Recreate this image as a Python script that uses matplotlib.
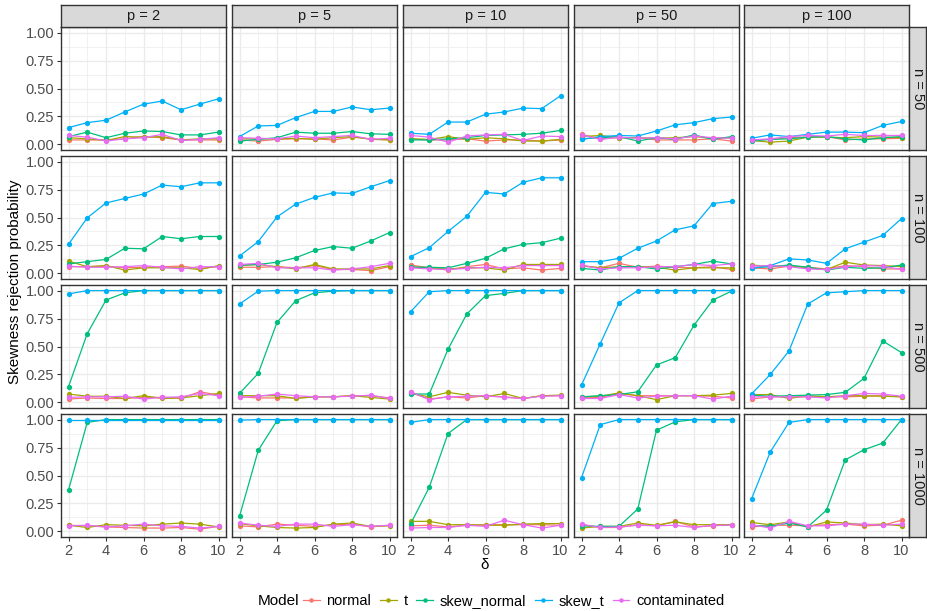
import numpy as np
import matplotlib.pyplot as plt
from matplotlib.lines import Line2D

plt.rcParams['font.family'] = ['Liberation Sans', 'DejaVu Sans']

delta = [2, 3, 4, 5, 6, 7, 8, 9, 10]
p_levels = [2, 5, 10, 50, 100]
n_levels = [50, 100, 500, 1000]
models = ['normal', 't', 'skew_normal', 'skew_t', 'contaminated']
colors = ['#F8766D', '#A3A500', '#00BF7D', '#00B0F6', '#E76BF3']

# rows: n = 50, 100, 500, 1000 ; inside each row: p = 2, 5, 10, 50, 100
normal = [
    [[0.04, 0.04, 0.04, 0.05, 0.07, 0.06, 0.04, 0.04, 0.04],
     [0.04, 0.03, 0.045, 0.05, 0.05, 0.04, 0.065, 0.05, 0.04],
     [0.05, 0.04, 0.04, 0.05, 0.03, 0.04, 0.04, 0.03, 0.04],
     [0.09, 0.05, 0.06, 0.06, 0.04, 0.04, 0.04, 0.05, 0.03],
     [0.04, 0.045, 0.06, 0.065, 0.07, 0.04, 0.05, 0.05, 0.055]],
    [[0.06, 0.06, 0.065, 0.05, 0.055, 0.06, 0.065, 0.045, 0.06],
     [0.055, 0.055, 0.06, 0.05, 0.07, 0.035, 0.035, 0.025, 0.06],
     [0.075, 0.05, 0.03, 0.06, 0.08, 0.04, 0.05, 0.03, 0.045],
     [0.065, 0.05, 0.09, 0.055, 0.065, 0.055, 0.05, 0.06, 0.035],
     [0.05, 0.04, 0.065, 0.055, 0.04, 0.07, 0.06, 0.04, 0.04]],
    [[0.03, 0.04, 0.035, 0.035, 0.045, 0.045, 0.035, 0.095, 0.065],
     [0.05, 0.04, 0.04, 0.04, 0.05, 0.05, 0.06, 0.06, 0.04],
     [0.09, 0.03, 0.05, 0.04, 0.06, 0.05, 0.035, 0.06, 0.06],
     [0.04, 0.045, 0.08, 0.06, 0.06, 0.06, 0.06, 0.055, 0.04],
     [0.03, 0.05, 0.05, 0.05, 0.05, 0.05, 0.055, 0.06, 0.05]],
    [[0.055, 0.05, 0.04, 0.035, 0.03, 0.03, 0.035, 0.02, 0.045],
     [0.05, 0.04, 0.065, 0.055, 0.045, 0.06, 0.065, 0.04, 0.055],
     [0.05, 0.055, 0.04, 0.055, 0.06, 0.06, 0.06, 0.06, 0.055],
     [0.06, 0.035, 0.035, 0.06, 0.05, 0.09, 0.04, 0.05, 0.06],
     [0.04, 0.055, 0.055, 0.05, 0.06, 0.065, 0.05, 0.055, 0.1]],
]
t_dist = [
    [[0.06, 0.05, 0.035, 0.07, 0.065, 0.07, 0.04, 0.05, 0.05],
     [0.05, 0.05, 0.05, 0.055, 0.045, 0.06, 0.07, 0.045, 0.04],
     [0.05, 0.045, 0.07, 0.045, 0.06, 0.05, 0.03, 0.03, 0.045],
     [0.07, 0.08, 0.06, 0.06, 0.055, 0.06, 0.07, 0.055, 0.06],
     [0.035, 0.02, 0.03, 0.065, 0.065, 0.06, 0.07, 0.065, 0.06]],
    [[0.11, 0.06, 0.07, 0.03, 0.05, 0.05, 0.05, 0.035, 0.07],
     [0.07, 0.08, 0.06, 0.04, 0.08, 0.04, 0.04, 0.04, 0.07],
     [0.06, 0.05, 0.04, 0.05, 0.05, 0.03, 0.08, 0.08, 0.08],
     [0.07, 0.05, 0.06, 0.06, 0.055, 0.03, 0.05, 0.05, 0.05],
     [0.075, 0.06, 0.07, 0.05, 0.035, 0.1, 0.075, 0.07, 0.06]],
    [[0.075, 0.055, 0.055, 0.035, 0.06, 0.035, 0.04, 0.06, 0.08],
     [0.06, 0.06, 0.06, 0.035, 0.05, 0.05, 0.06, 0.045, 0.03],
     [0.08, 0.05, 0.09, 0.065, 0.05, 0.08, 0.035, 0.06, 0.065],
     [0.05, 0.055, 0.085, 0.06, 0.025, 0.06, 0.06, 0.065, 0.08],
     [0.07, 0.07, 0.035, 0.06, 0.05, 0.06, 0.06, 0.055, 0.05]],
    [[0.055, 0.035, 0.06, 0.055, 0.05, 0.065, 0.075, 0.065, 0.04],
     [0.07, 0.05, 0.035, 0.03, 0.035, 0.065, 0.075, 0.045, 0.05],
     [0.09, 0.09, 0.06, 0.06, 0.055, 0.055, 0.065, 0.07, 0.07],
     [0.03, 0.045, 0.045, 0.075, 0.055, 0.085, 0.06, 0.06, 0.06],
     [0.08, 0.06, 0.085, 0.04, 0.085, 0.075, 0.06, 0.065, 0.05]],
]
skew_normal = [
    [[0.07, 0.11, 0.06, 0.1, 0.12, 0.115, 0.085, 0.085, 0.11],
     [0.03, 0.045, 0.06, 0.11, 0.1, 0.1, 0.115, 0.095, 0.09],
     [0.04, 0.04, 0.05, 0.06, 0.08, 0.085, 0.09, 0.1, 0.125],
     [0.05, 0.06, 0.07, 0.03, 0.06, 0.045, 0.085, 0.045, 0.07],
     [0.03, 0.045, 0.05, 0.065, 0.07, 0.05, 0.04, 0.06, 0.07]],
    [[0.085, 0.105, 0.125, 0.225, 0.22, 0.33, 0.31, 0.33, 0.33],
     [0.075, 0.08, 0.1, 0.14, 0.205, 0.24, 0.225, 0.29, 0.365],
     [0.055, 0.055, 0.05, 0.09, 0.135, 0.22, 0.26, 0.275, 0.315],
     [0.045, 0.03, 0.06, 0.06, 0.04, 0.06, 0.08, 0.11, 0.085],
     [0.05, 0.06, 0.075, 0.055, 0.03, 0.055, 0.045, 0.05, 0.075]],
    [[0.14, 0.615, 0.915, 0.98, 1.0, 1.0, 1.0, 1.0, 1.0],
     [0.08, 0.26, 0.715, 0.91, 0.98, 0.995, 1.0, 1.0, 1.0],
     [0.075, 0.075, 0.475, 0.79, 0.955, 0.975, 1.0, 1.0, 1.0],
     [0.05, 0.06, 0.07, 0.095, 0.335, 0.4, 0.69, 0.915, 0.995],
     [0.065, 0.055, 0.06, 0.065, 0.07, 0.09, 0.215, 0.55, 0.445]],
    [[0.37, 0.975, 1.0, 1.0, 1.0, 1.0, 1.0, 1.0, 1.0],
     [0.135, 0.725, 0.99, 1.0, 1.0, 1.0, 1.0, 1.0, 1.0],
     [0.065, 0.395, 0.875, 1.0, 1.0, 1.0, 1.0, 1.0, 1.0],
     [0.05, 0.045, 0.045, 0.2, 0.905, 0.98, 1.0, 1.0, 1.0],
     [0.055, 0.045, 0.075, 0.04, 0.19, 0.64, 0.73, 0.79, 1.0]],
]
skew_t = [
    [[0.15, 0.195, 0.216, 0.29, 0.36, 0.388, 0.31, 0.36, 0.408],
     [0.07, 0.165, 0.17, 0.24, 0.295, 0.295, 0.335, 0.31, 0.325],
     [0.1, 0.09, 0.2, 0.2, 0.27, 0.29, 0.325, 0.32, 0.435],
     [0.045, 0.07, 0.08, 0.075, 0.12, 0.175, 0.195, 0.23, 0.245],
     [0.055, 0.085, 0.07, 0.09, 0.11, 0.11, 0.105, 0.17, 0.205]],
    [[0.26, 0.497, 0.63, 0.67, 0.71, 0.79, 0.775, 0.81, 0.81],
     [0.155, 0.285, 0.505, 0.62, 0.68, 0.72, 0.715, 0.775, 0.83],
     [0.15, 0.23, 0.375, 0.51, 0.725, 0.71, 0.815, 0.855, 0.855],
     [0.105, 0.105, 0.135, 0.225, 0.29, 0.39, 0.425, 0.625, 0.645],
     [0.045, 0.07, 0.13, 0.12, 0.09, 0.22, 0.28, 0.34, 0.49]],
    [[0.97, 1.0, 1.0, 1.0, 1.0, 1.0, 1.0, 1.0, 1.0],
     [0.88, 0.995, 1.0, 1.0, 1.0, 1.0, 1.0, 1.0, 1.0],
     [0.81, 0.99, 1.0, 1.0, 1.0, 1.0, 1.0, 1.0, 1.0],
     [0.155, 0.525, 0.89, 1.0, 1.0, 1.0, 1.0, 1.0, 1.0],
     [0.075, 0.25, 0.46, 0.88, 0.98, 0.99, 1.0, 1.0, 1.0]],
    [[1.0, 1.0, 1.0, 1.0, 1.0, 1.0, 1.0, 1.0, 1.0],
     [0.995, 1.0, 1.0, 1.0, 1.0, 1.0, 1.0, 1.0, 1.0],
     [0.975, 1.0, 1.0, 1.0, 1.0, 1.0, 1.0, 1.0, 1.0],
     [0.48, 0.955, 1.0, 1.0, 1.0, 1.0, 1.0, 1.0, 1.0],
     [0.29, 0.71, 0.975, 1.0, 1.0, 1.0, 1.0, 1.0, 1.0]],
]
contaminated = [
    [[0.08, 0.065, 0.03, 0.05, 0.06, 0.09, 0.035, 0.045, 0.06],
     [0.06, 0.055, 0.05, 0.075, 0.06, 0.07, 0.08, 0.045, 0.055],
     [0.08, 0.065, 0.02, 0.075, 0.085, 0.09, 0.035, 0.075, 0.07],
     [0.085, 0.045, 0.065, 0.055, 0.06, 0.05, 0.075, 0.06, 0.055],
     [0.04, 0.05, 0.07, 0.08, 0.075, 0.09, 0.08, 0.08, 0.08]],
    [[0.065, 0.055, 0.055, 0.06, 0.07, 0.055, 0.04, 0.06, 0.06],
     [0.08, 0.09, 0.05, 0.05, 0.05, 0.03, 0.04, 0.06, 0.09],
     [0.05, 0.04, 0.035, 0.045, 0.055, 0.05, 0.07, 0.07, 0.07],
     [0.075, 0.04, 0.05, 0.05, 0.06, 0.06, 0.08, 0.07, 0.085],
     [0.065, 0.07, 0.06, 0.04, 0.035, 0.06, 0.07, 0.065, 0.035]],
    [[0.045, 0.05, 0.05, 0.055, 0.03, 0.045, 0.05, 0.08, 0.06],
     [0.045, 0.055, 0.075, 0.06, 0.05, 0.05, 0.055, 0.065, 0.035],
     [0.095, 0.025, 0.05, 0.055, 0.06, 0.045, 0.035, 0.055, 0.06],
     [0.035, 0.035, 0.07, 0.04, 0.055, 0.06, 0.06, 0.03, 0.055],
     [0.05, 0.05, 0.05, 0.05, 0.04, 0.06, 0.08, 0.075, 0.055]],
    [[0.05, 0.055, 0.04, 0.05, 0.065, 0.05, 0.045, 0.03, 0.045],
     [0.075, 0.055, 0.045, 0.065, 0.065, 0.045, 0.06, 0.045, 0.055],
     [0.03, 0.035, 0.035, 0.055, 0.045, 0.1, 0.06, 0.03, 0.055],
     [0.065, 0.035, 0.04, 0.055, 0.05, 0.055, 0.035, 0.055, 0.055],
     [0.06, 0.03, 0.09, 0.05, 0.05, 0.065, 0.065, 0.055, 0.065]],
]
series = [normal, t_dist, skew_normal, skew_t, contaminated]

W, H = 927, 611
fig = plt.figure(figsize=(W / 100, H / 100), dpi=100)
fig.patch.set_facecolor('white')

col_left = [61, 232, 403, 574, 744]
row_top = [27, 156, 285, 414]
pw, ph = 165, 123
strip_h = 22
strip_w = 17
grid_col = '#EBEBEB'
border = '#333333'
strip_fc = '#D9D9D9'
tick_col = '#4D4D4D'


def frac(x, y, w, h):
    return [x / W, 1 - (y + h) / H, w / W, h / H]


def strip_box(rect):
    sax = fig.add_axes(rect)
    sax.set_facecolor(strip_fc)
    sax.set_xticks([])
    sax.set_yticks([])
    for s in sax.spines.values():
        s.set_color(border)
        s.set_linewidth(1.0)
    return sax


for i, n in enumerate(n_levels):
    for j, p in enumerate(p_levels):
        ax = fig.add_axes(frac(col_left[j], row_top[i], pw, ph))
        for k, m in enumerate(models):
            ax.plot(delta, series[k][i][j], color=colors[k], lw=0.9,
                    marker='o', ms=3.8, mew=0, zorder=3 + k)
        ax.set_xlim(1.6, 10.4)
        ax.set_ylim(-0.05, 1.05)
        ax.set_xticks([2, 4, 6, 8, 10])
        ax.set_xticks([3, 5, 7, 9], minor=True)
        ax.set_yticks([0, 0.25, 0.5, 0.75, 1.0])
        ax.set_yticks([0.125, 0.375, 0.625, 0.875], minor=True)
        ax.grid(True, which='major', color=grid_col, lw=1.0, zorder=0)
        ax.grid(True, which='minor', color=grid_col, lw=0.5, zorder=0)
        ax.set_axisbelow(True)
        for s in ax.spines.values():
            s.set_color(border)
            s.set_linewidth(1.0)
        ax.tick_params(which='both', length=0)
        ax.tick_params(which='major', length=3, color=border, width=0.8,
                       labelsize=10.5, labelcolor=tick_col, pad=2)
        if j == 0:
            ax.set_yticklabels(['0.00', '0.25', '0.50', '0.75', '1.00'])
        else:
            ax.set_yticklabels([])
            ax.tick_params(axis='y', which='major', length=0)
        if i < len(n_levels) - 1:
            ax.set_xticklabels([])
            ax.tick_params(axis='x', which='major', length=0)

        if i == 0:
            sax = strip_box(frac(col_left[j], row_top[0] - strip_h, pw, strip_h))
            sax.text(0.5, 0.5, f'p = {p}', ha='center', va='center',
                     fontsize=10.5, color='#1A1A1A', transform=sax.transAxes)
        if j == len(p_levels) - 1:
            rax = strip_box(frac(col_left[j] + pw, row_top[i], strip_w, ph))
            rax.text(0.5, 0.5, f'n = {n}', ha='center', va='center', rotation=-90,
                     fontsize=10.5, color='#1A1A1A', transform=rax.transAxes)

fig.text((61 + 909) / 2 / W, 1 - 565 / H, 'δ', ha='center', va='center', fontsize=11)
fig.text(15 / W, 1 - (27 + 537) / 2 / H, 'Skewness rejection probability',
         ha='center', va='center', rotation=90, fontsize=11)

handles = [Line2D([], [], color=c, lw=0.9, marker='o', ms=3.2, mew=0) for c in colors]
fig.text(258 / W, 1 - 601 / H, 'Model', ha='left', va='center', fontsize=11)
fig.legend(handles, models, loc='center left', bbox_to_anchor=(303 / W, 1 - 601 / H),
           ncol=5, frameon=False, fontsize=10.5, handlelength=1.15, handletextpad=0.45,
           columnspacing=0.6, borderpad=0, borderaxespad=0)

fig.savefig('out.png', dpi=100)
